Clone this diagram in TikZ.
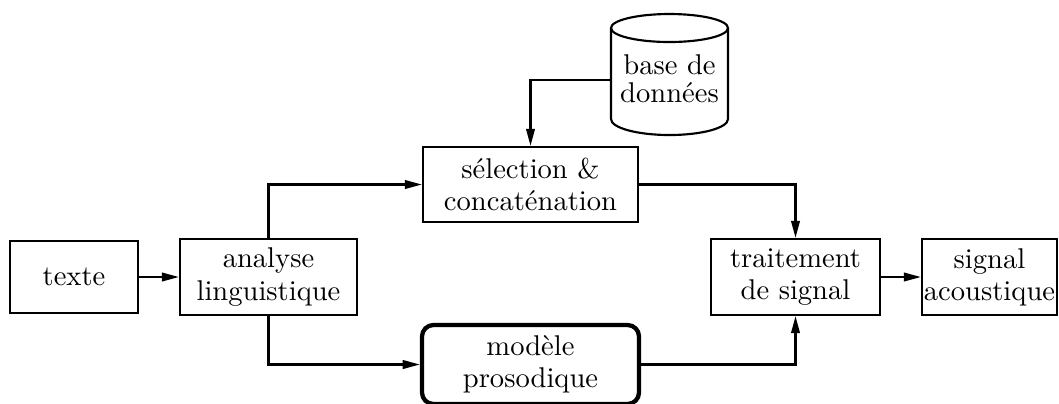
\documentclass[tikz,border=0pt]{standalone}
\usetikzlibrary{arrows.meta}
\newdimen\pxu \pxu=0.35pt
\begin{document}
\begin{tikzpicture}[x=0.35pt,y=-0.35pt,
  txt/.style={font=\fontsize{10}{11.3}\selectfont, align=center},
  box/.style={txt, draw, line width=0.75pt, inner sep=0pt},
  roundbox/.style={box, line width=1.5pt, rounded corners=4pt},
  link/.style={line width=0.75pt, -{Triangle[length=6pt,width=3pt]}},
  plain/.style={line width=0.75pt}]
\clip (0,0) rectangle (1059,403);

% processing blocks
\node[box, minimum width=128\pxu, minimum height=72\pxu] (texte) at (74,277) {texte};
\node[box, minimum width=177\pxu, minimum height=76\pxu] (analyse) at (268.5,277) {analyse\\linguistique};
\node[box, minimum width=215\pxu, minimum height=75\pxu] (sel) at (530.5,184.5) {s\'election \&\\concat\'enation};
\node[roundbox, minimum width=217\pxu, minimum height=79\pxu] (modele) at (530.5,364.5) {mod\`ele\\prosodique};
\node[box, minimum width=169\pxu, minimum height=76\pxu] (trait) at (795.5,277) {traitement\\de signal};
\node[box, minimum width=135\pxu, minimum height=76\pxu] (signal) at (989.5,277) {signal\\acoustique};

% database cylinder
\draw[plain] (669.5,28) ellipse [x radius=58.5\pxu, y radius=14\pxu];
\draw[plain] (611,28) -- (611,119)
  arc [start angle=180, end angle=360, x radius=58.5\pxu, y radius=16\pxu]
  -- (728,28);
\coordinate (dbw) at (611,80);
\node[txt, font=\fontsize{10}{9.8}\selectfont, inner sep=0pt] (db) at (669.5,79) {base de\\donn\'ees};

% connections
\draw[link] (texte) -- (analyse);
\draw[link] (analyse.north) |- (sel.west);
\draw[link] (analyse.south) |- (modele.west);
\draw[link] (dbw) -| (sel.north);
\draw[link] (sel.east) -| (trait.north);
\draw[link] (modele.east) -| (trait.south);
\draw[link] (trait) -- (signal);
\end{tikzpicture}
\end{document}
